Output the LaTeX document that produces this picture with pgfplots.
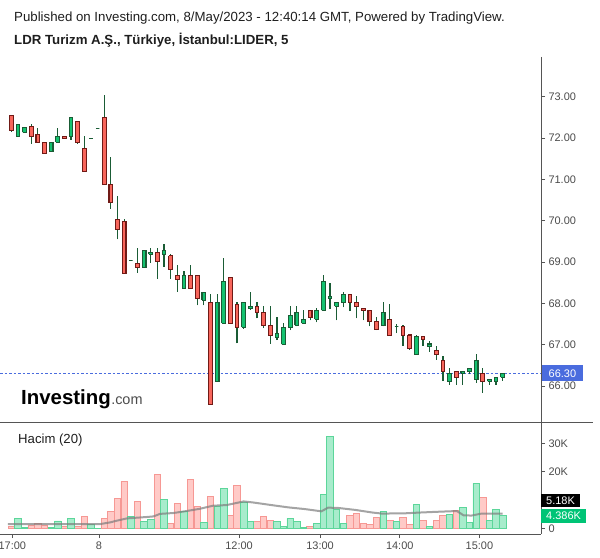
\documentclass[border=0pt]{standalone}
\usepackage{fontspec}
\setmainfont{Liberation Sans}
\usepackage{pgfplots}
\pgfplotsset{compat=1.18}

\definecolor{upfill}{RGB}{20,194,112}
\definecolor{upline}{RGB}{26,92,53}
\definecolor{downfill}{RGB}{248,102,92}
\definecolor{downline}{RGB}{112,26,22}
\definecolor{wick}{RGB}{26,92,53}
\definecolor{vupfill}{RGB}{168,236,204}
\definecolor{vupline}{RGB}{92,214,154}
\definecolor{vdnfill}{RGB}{255,202,199}
\definecolor{vdnline}{RGB}{246,152,148}
\definecolor{magray}{RGB}{125,125,125}
\definecolor{priceblue}{RGB}{74,108,222}
\definecolor{boxgreen}{RGB}{0,196,118}
\definecolor{axisgray}{RGB}{85,85,85}
\definecolor{labelgray}{RGB}{75,75,75}
\definecolor{txt}{RGB}{30,30,30}

% i, open, high, low, close
\newcommand\candle[5]{%
  \pgfmathsetmacro\xa{#1-0.28}\pgfmathsetmacro\xb{#1+0.28}%
  \ifdim #5pt<#2pt
    \def\cFill{downfill}\def\cDraw{downline}%
  \else
    \def\cFill{upfill}\def\cDraw{upline}%
  \fi
  \edef\tmp{\noexpand\addplot[draw=wick, line width=1.2bp] coordinates {(#1,#4) (#1,#3)};%
    \noexpand\addplot[draw=\cDraw, fill=\cFill, line width=1.1bp, line join=miter] coordinates {(\xa,#2) (\xb,#2) (\xb,#5) (\xa,#5) (\xa,#2)};}%
  \tmp}

\begin{document}
\begin{tikzpicture}

% header
\node[anchor=base west, inner sep=0, text=txt, font=\fontsize{13.3}{15}\selectfont] at (14bp,536.5bp) {Published on Investing.com, 8/May/2023 - 12:40:14 GMT, Powered by TradingView.};
\node[anchor=base west, inner sep=0, text=txt, font=\bfseries\fontsize{13.3}{15}\selectfont] at (14bp,513bp) {LDR Turizm A.Ş., Türkiye, İstanbul:LIDER, 5};

% price pane
\begin{axis}[
  at={(0bp,136bp)}, anchor=south west, scale only axis,
  width=541bp, height=365bp,
  xmin=-1.70, xmax=79.77, ymin=65.128, ymax=73.966,
  axis line style={draw=none},
  xtick=\empty,
  ytick={66,67,68,69,70,71,72,73},
  ytick pos=right, yticklabel pos=right,
  tick align=outside, major tick length=4bp,
  ytick style={draw=axisgray, line width=0.8bp},
  /pgf/number format/assume math mode=true,
  yticklabel style={/pgf/number format/.cd, fixed, fixed zerofill, precision=2},
  tick label style={font=\fontsize{11}{13}\selectfont, text=labelgray},
]
\addplot[draw=priceblue, line width=1bp, dash pattern=on 2.5bp off 2bp] coordinates {(-1.70,66.30) (79.77,66.30)};
\candle{0}{72.55}{72.55}{72.16}{72.19}
\candle{1}{72.04}{72.34}{72.04}{72.34}
\candle{2}{72.14}{72.25}{72.14}{72.25}
\candle{3}{72.29}{72.34}{71.86}{72.04}
\candle{4}{72.09}{72.25}{71.90}{71.90}
\candle{5}{71.90}{71.90}{71.63}{71.63}
\candle{6}{71.67}{71.90}{71.67}{71.90}
\candle{7}{71.90}{72.25}{71.90}{72.05}
\candle{8}{72.05}{72.05}{72.00}{72.00}
\candle{9}{72.04}{72.50}{71.96}{72.50}
\candle{10}{72.41}{72.41}{71.87}{71.89}
\candle{11}{71.75}{72.05}{71.20}{71.20}
\candle{12}{72.00}{72.00}{72.00}{72.00}
\candle{13}{72.24}{72.24}{72.24}{72.24}
\candle{14}{72.50}{73.05}{70.88}{70.88}
\candle{15}{70.88}{71.545}{70.29}{70.45}
\candle{16}{70.035}{70.60}{69.55}{69.79}
\candle{17}{69.99}{70.035}{68.73}{68.73}
\candle{18}{69.03}{69.03}{69.03}{69.03}
\candle{19}{68.97}{69.33}{68.74}{68.865}
\candle{20}{68.865}{69.285}{68.865}{69.285}
\candle{21}{69.19}{69.33}{68.99}{69.24}
\candle{22}{69.24}{69.33}{68.60}{69.01}
\candle{23}{69.18}{69.44}{68.89}{69.285}
\candle{24}{69.15}{69.19}{68.60}{68.82}
\candle{25}{68.68}{68.93}{68.28}{68.575}
\candle{26}{68.365}{68.785}{68.365}{68.68}
\candle{27}{68.68}{68.93}{68.365}{68.365}
\candle{28}{68.68}{68.68}{67.95}{68.12}
\candle{29}{68.07}{68.27}{67.95}{68.27}
\candle{30}{68.03}{68.22}{65.56}{65.56}
\candle{31}{66.11}{68.22}{66.11}{68.03}
\candle{32}{67.52}{69.09}{67.52}{68.535}
\candle{33}{68.63}{68.63}{67.52}{67.52}
\candle{34}{67.98}{68.03}{67.03}{67.42}
\candle{35}{67.42}{68.03}{67.39}{68.03}
\candle{36}{67.88}{68.27}{67.85}{67.93}
\candle{37}{67.93}{68.03}{67.64}{67.78}
\candle{38}{67.78}{67.93}{67.40}{67.47}
\candle{39}{67.47}{67.93}{67.025}{67.23}
\candle{40}{67.18}{67.66}{67.11}{67.28}
\candle{41}{67.01}{67.52}{67.01}{67.42}
\candle{42}{67.42}{67.93}{67.35}{67.71}
\candle{43}{67.47}{67.93}{67.445}{67.78}
\candle{44}{67.52}{67.83}{67.52}{67.615}
\candle{45}{67.83}{67.83}{67.59}{67.66}
\candle{46}{67.615}{67.88}{67.54}{67.83}
\candle{47}{67.83}{68.69}{67.83}{68.53}
\candle{48}{68.12}{68.49}{67.86}{68.17}
\candle{49}{67.93}{68.03}{67.59}{68.03}
\candle{50}{68.03}{68.27}{67.905}{68.22}
\candle{51}{68.22}{68.22}{67.81}{68.03}
\candle{52}{68.03}{68.17}{67.64}{67.93}
\candle{53}{67.88}{67.88}{67.59}{67.83}
\candle{54}{67.83}{67.83}{67.445}{67.57}
\candle{55}{67.57}{67.66}{67.35}{67.37}
\candle{56}{67.47}{68.03}{67.445}{67.78}
\candle{57}{67.61}{67.98}{67.22}{67.22}
\candle{58}{67.44}{67.49}{67.28}{67.44}
\candle{59}{67.43}{67.47}{66.98}{67.22}
\candle{60}{67.235}{67.235}{66.88}{66.904}
\candle{61}{66.76}{67.235}{66.76}{67.19}
\candle{62}{67.19}{67.19}{66.98}{67.13}
\candle{63}{66.952}{67.08}{66.83}{67.017}
\candle{64}{66.87}{66.97}{66.64}{66.76}
\candle{65}{66.62}{66.72}{66.12}{66.347}
\candle{66}{66.105}{66.428}{66.032}{66.307}
\candle{67}{66.355}{66.355}{66.03}{66.21}
\candle{68}{66.307}{66.355}{66.03}{66.355}
\candle{69}{66.347}{66.428}{66.283}{66.428}
\candle{70}{66.153}{66.775}{66.08}{66.62}
\candle{71}{66.307}{66.428}{65.84}{66.105}
\candle{72}{66.113}{66.16}{66.03}{66.16}
\candle{73}{66.105}{66.21}{66.03}{66.21}
\candle{74}{66.21}{66.307}{66.13}{66.30}
\end{axis}

% logo
\node[anchor=base west, inner sep=0, text=black, font=\bfseries\fontsize{20.5}{22}\selectfont] (inv) at (21bp,153bp) {Investing};
\node[anchor=base west, inner sep=0, text=labelgray, font=\fontsize{14.5}{16}\selectfont] at (inv.base east) {.com};

% volume pane
\begin{axis}[
  at={(0bp,24bp)}, anchor=south west, scale only axis,
  width=541bp, height=112bp,
  xmin=-1.70, xmax=79.77, ymin=-2.01, ymax=37.56,
  axis line style={draw=none},
  xtick={0.15,13.2,34.3,46.5,58.5,70.5},
  xticklabels={17:00,8,12:00,13:00,14:00,15:00},
  xtick pos=bottom,
  ytick={0,20,30}, yticklabels={0,20K,30K},
  extra y ticks={10}, extra y tick labels={},
  extra y tick style={ytick pos=right, tick align=outside},
  ytick pos=right, yticklabel pos=right,
  tick align=outside, major tick length=4bp,
  tick style={draw=axisgray, line width=0.8bp},
  tick label style={font=\fontsize{11}{13}\selectfont, text=labelgray},
]
\addplot[ybar, bar width=0.97, bar shift=0pt, fill=vdnfill, draw=vdnline, line width=0.8bp] coordinates {
(0,0.8) (3,1.2) (4,1.6) (5,1.2) (8,0.5) (10,0.8) (11,4.3) (14,3.6) (15,6.0) (16,10.7) (17,16.6)
(19,9.5) (22,19.1) (24,1.8) (25,8.8) (27,17.4) (28,7.8) (30,11.1) (33,4.6) (34,15.2) (37,2.5)
(38,4.2) (39,2.8) (45,0.8) (51,4.6) (52,5.3) (53,1.8) (54,1.4) (55,3.9) (57,2.8) (59,3.9)
(60,1.4) (62,2.8) (64,2.8) (65,4.6) (67,6.3) (71,10.9)};
\addplot[ybar, bar width=0.97, bar shift=0pt, fill=vupfill, draw=vupline, line width=0.8bp] coordinates {
(1,3.5) (2,0.2) (6,0.35) (7,2.6) (9,3.5) (12,1.5) (13,0.1) (18,4.3) (20,2.5) (21,3.2) (23,10.2)
(26,6.0) (29,2.1) (31,7.9) (32,14.1) (35,9.3) (36,2.5) (40,2.5) (41,0.8) (42,3.5) (43,2.5)
(44,0.35) (46,1.8) (47,12.0) (48,32.5) (49,6.8) (50,1.8) (56,6.0) (58,2.5) (61,8.5) (63,0.7)
(66,4.9) (68,7.4) (69,2.1) (70,15.9) (72,2.8) (73,6.7) (74,4.386)};
\addplot[no marks, draw=magray, line width=2bp, opacity=0.7] coordinates {
(-0.5,1.5) (13.4,1.5) (14.9,2.1) (15.9,2.7) (17.4,3.5) (20.4,4.0) (21.4,4.2) (22.4,5.1) (24.4,5.4)
(26.4,6.1) (28.4,6.9) (30.4,8.0) (32.4,8.2) (35,9.5) (36.5,9.1) (39.2,8.2) (41.7,7.4) (44.2,6.8)
(46.7,6.0) (47.7,7.3) (49.2,7.2) (51.8,6.5) (54.3,5.6) (55.8,5.2) (59.3,5.3) (61.8,5.6) (64.8,5.9)
(67.1,6.1) (68.1,4.6) (69.3,4.5) (70.8,5.2) (74,5.18)};
\end{axis}

\node[anchor=base west, inner sep=0, text=txt, font=\fontsize{13.2}{15}\selectfont] at (18bp,114.5bp) {Hacim (20)};

% frame lines
\draw[axisgray, line width=0.9bp] (0bp,136bp) -- (593bp,136bp);
\draw[axisgray, line width=0.9bp] (0bp,24bp) -- (541bp,24bp);
\draw[axisgray, line width=0.9bp] (541bp,501bp) -- (541bp,24bp);

% value boxes
\node[fill=priceblue, text=white, anchor=west, inner xsep=6.5bp, inner ysep=0, minimum height=16bp, font=\fontsize{11}{13}\selectfont] at (542bp,184.5bp) {66.30};
\node[fill=black, text=white, anchor=west, inner xsep=5bp, inner ysep=0, minimum height=13.5bp, font=\fontsize{11}{13}\selectfont] at (541bp,57.3bp) {5.18K};
\node[fill=boxgreen, text=white, anchor=west, inner xsep=5bp, inner ysep=0, minimum height=13.5bp, font=\fontsize{11}{13}\selectfont] at (541bp,42bp) {4.386K};

\pgfresetboundingbox
\path[use as bounding box] (0bp,0bp) rectangle (600bp,558bp);
\end{tikzpicture}
\end{document}
